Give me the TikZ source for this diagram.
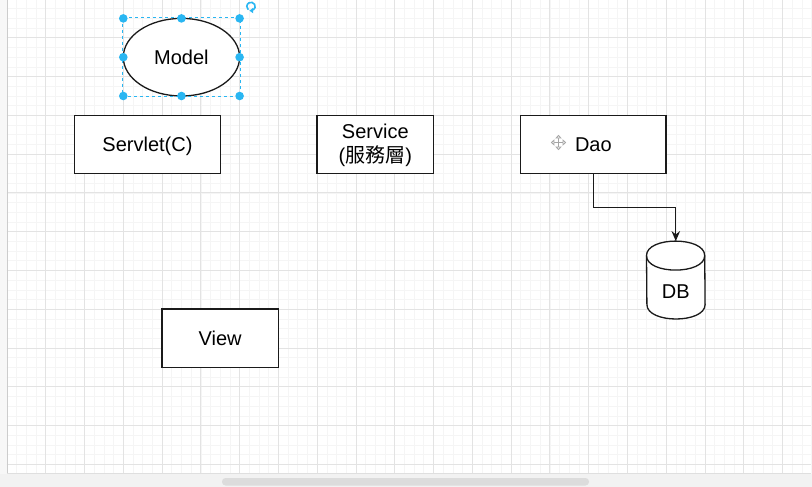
\documentclass[tikz,border=0pt]{standalone}
\usepackage{fontspec}
\setmainfont{Liberation Sans}
\newfontfamily\cjk{Noto Sans CJK TC}
\usetikzlibrary{shapes.geometric,arrows.meta,calc}
\definecolor{minorgrid}{HTML}{F5F5F5}
\definecolor{majorgrid}{HTML}{E3E3E3}
\definecolor{sel}{HTML}{29B6F2}
\definecolor{strip}{HTML}{F2F2F2}
\definecolor{scroll}{HTML}{DCDCDC}
\definecolor{edgeline}{HTML}{1A1A1A}
\tikzset{
  lbl/.style={font=\fontsize{20}{24}\selectfont, inner sep=0pt},
  box/.style={draw=edgeline, line width=1.3pt, fill=white, inner sep=0pt, lbl,
    text height=14.3pt, text depth=0pt},
  ell/.style={box, ellipse},
  conn/.style={draw=edgeline, line width=1.2pt, -{Stealth[length=10pt,width=8.5pt]}},
  handle/.style={fill=sel, draw=none},
  movearm/.style={draw=gray!70, line width=0.9pt},
}
\begin{document}
\begin{tikzpicture}[x=1pt,y=-1pt]
\useasboundingbox (0,0) rectangle (812,487);
% background
\fill[white!97!black] (0,0) rectangle (812,487);
\fill[white] (6.9,0) rectangle (811,473.5);
\begin{scope}
\clip (6.9,0) rectangle (811,473.5);
\foreach \i in {0,...,83} \draw[minorgrid, line width=0.5pt] ({6.9+9.694*\i},0) -- ({6.9+9.694*\i},473.5);
\foreach \j in {1,...,49} \draw[minorgrid, line width=0.5pt] (6.9,{-1.05+9.694*\j}) -- (811,{-1.05+9.694*\j});
\foreach \i in {1,...,20} \draw[majorgrid, line width=0.7pt] ({6.9+38.776*\i},0) -- ({6.9+38.776*\i},473.5);
\foreach \j in {1,...,12} \draw[majorgrid, line width=0.7pt] (6.9,{-1.05+38.776*\j}) -- (811,{-1.05+38.776*\j});
\end{scope}
\draw[gray!40, line width=0.8pt] (6.9,0) -- (6.9,473.5);
\fill[strip] (0,473.5) rectangle (812,487);
\draw[gray!25, line width=0.6pt] (6.9,473.5) -- (811,473.5);
\fill[scroll, rounded corners=3.5pt] (222,478) rectangle (589,485.5);

% nodes
\node[ell, minimum width=116.3pt, minimum height=77.6pt] (model) at (181.45,57.2) {Model};
\node[box, minimum width=145.4pt, minimum height=58.2pt] (servlet) at (147.5,144.4) {Servlet(C)};
\node[box, minimum width=116.4pt, minimum height=58.2pt] (service) at (375.3,144.4) {};
\node[lbl, align=center] (servicelabel) at (375.3,145.6) {Service\\({\cjk 服務層})};
\node[box, minimum width=145.4pt, minimum height=58.2pt] (dao) at (593.4,144.4) {Dao};
\node[box, minimum width=116.4pt, minimum height=58.2pt] (view) at (220.2,338.2) {View};

% DB cylinder
\node[inner sep=0pt, minimum width=58.2pt, minimum height=77.5pt] (db) at (675.8,280.05) {};
\path (db.north west) coordinate (dbtl) (db.south east) coordinate (dbbr);
\filldraw[draw=edgeline, fill=white, line width=1.3pt]
  ($(dbtl)+(0,14.5)$) .. controls ($(dbtl)+(0,-4.83)$) and ($(dbtl)+(58.2,-4.83)$) .. ($(dbtl)+(58.2,14.5)$)
  -- ($(dbbr)+(0,-14.5)$) .. controls ($(dbbr)+(0,4.83)$) and ($(dbbr)+(-58.2,4.83)$) .. ($(dbbr)+(-58.2,-14.5)$)
  -- cycle;
\draw[edgeline, line width=1.3pt]
  ($(dbtl)+(0,14.5)$) .. controls ($(dbtl)+(0,33.83)$) and ($(dbtl)+(58.2,33.83)$) .. ($(dbtl)+(58.2,14.5)$);
\node[lbl, text height=14.3pt, text depth=0pt] (dblabel) at (675.8,291.7) {DB};

% connector
\coordinate (mid) at ($(dao.south)!0.5!(db.north)$);
\draw[conn] (dao.south) |- (mid) -| (db.north);

% selection of Model
\draw[sel, line width=0.9pt, dash pattern=on 3pt off 3pt] (model.west |- model.north) rectangle (model.east |- model.south);
\fill[handle] (123.3,18.4) circle (4.3);
\fill[handle] (181.45,18.4) circle (4.3);
\fill[handle] (239.6,18.4) circle (4.3);
\fill[handle] (123.3,57.2) circle (4.3);
\fill[handle] (239.6,57.2) circle (4.3);
\fill[handle] (123.3,96) circle (4.3);
\fill[handle] (181.45,96) circle (4.3);
\fill[handle] (239.6,96) circle (4.3);
% rotate icon
\draw[sel, line width=1.6pt] (251,6.5) ++(60:4.2) arc[start angle=60, end angle=-230, radius=4.2];
\fill[sel] (251,6.5) ++(95:4.2) ++(-1.2,0) -- ++(3.6,-2.8) -- ++(0.2,5.4) -- cycle;

% move icon near Dao
\coordinate (mv) at (558.5,142.5);
\draw[movearm] ($(mv)+(-5,0)$) -- ($(mv)+(5,0)$);
\draw[movearm] ($(mv)+(0,-5)$) -- ($(mv)+(0,5)$);
\draw[movearm, fill=white] ($(mv)+(-7,0)$) -- ($(mv)+(-4.5,-2.3)$) -- ($(mv)+(-4.5,2.3)$) -- cycle;
\draw[movearm, fill=white] ($(mv)+(7,0)$) -- ($(mv)+(4.5,-2.3)$) -- ($(mv)+(4.5,2.3)$) -- cycle;
\draw[movearm, fill=white] ($(mv)+(0,-7)$) -- ($(mv)+(-2.3,-4.5)$) -- ($(mv)+(2.3,-4.5)$) -- cycle;
\draw[movearm, fill=white] ($(mv)+(0,7)$) -- ($(mv)+(-2.3,4.5)$) -- ($(mv)+(2.3,4.5)$) -- cycle;
\end{tikzpicture}
\end{document}
